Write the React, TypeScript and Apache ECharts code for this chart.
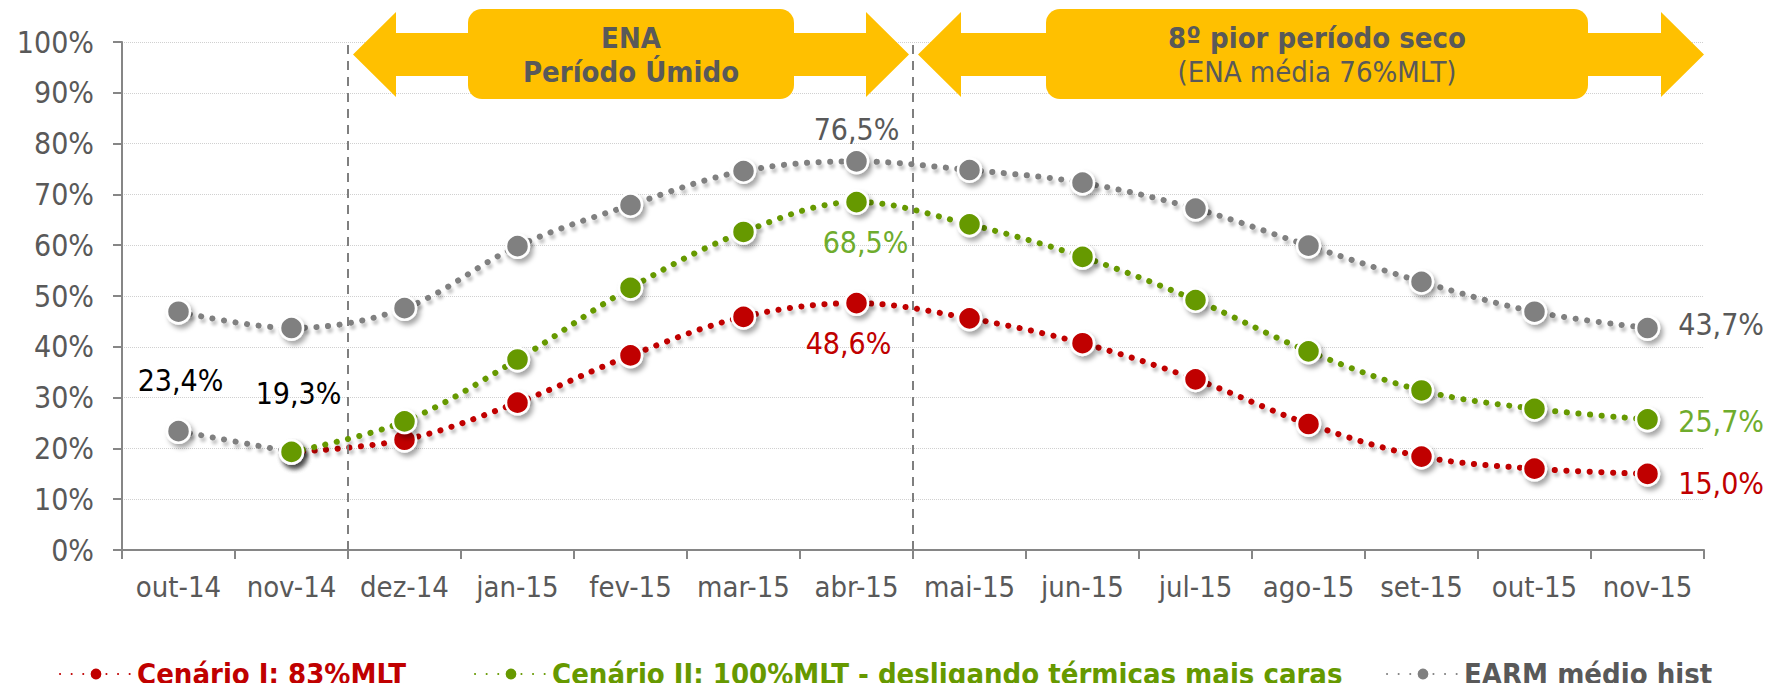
import React, { useEffect, useRef } from "react";
import * as echarts from "echarts";

const categories = ["out-14", "nov-14", "dez-14", "jan-15", "fev-15", "mar-15", "abr-15", "mai-15", "jun-15", "jul-15", "ago-15", "set-15", "out-15", "nov-15"];
const earmHist = [46.9, 43.7, 47.6, 59.8, 67.9, 74.6, 76.5, 74.8, 72.3, 67.2, 59.9, 52.8, 46.9, 43.7];
const earmVerificado = [23.4, 19.3, null, null, null, null, null, null, null, null, null, null, null, null];
const cenarioI = [null, 19.3, 21.7, 29.0, 38.3, 45.9, 48.6, 45.6, 40.7, 33.6, 24.8, 18.4, 16.0, 15.0];
const cenarioII = [null, 19.3, 25.3, 37.5, 51.6, 62.6, 68.5, 64.1, 57.7, 49.2, 39.1, 31.4, 27.8, 25.7];
const yTicks = { min: 0, max: 100, interval: 10 };
const periodBoundaries = [2, 7];
const seriesNames = ["Cenário I: 83%MLT", "Cenário II: 100%MLT - desligando térmicas mais caras", "EARM médio hist"];

const FONT = "'DejaVu Sans Condensed', 'DejaVu Sans', sans-serif";
const RED = "#C00000";
const GREEN = "#669900";
const GREEN_LABEL = "#6FAC2D";
const GRAY = "#808080";
const DARK = "#595959";
const GOLD = "#FFC000";

const fmt = (v: number) => v.toFixed(1).replace(".", ",") + "%";

function doubleArrow(xL: number, xR: number, yC: number) {
  const head = 43;
  const hh = 42.5;
  const sh = 21.5;
  return [
    [xL, yC],
    [xL + head, yC - hh],
    [xL + head, yC - sh],
    [xR - head, yC - sh],
    [xR - head, yC - hh],
    [xR, yC],
    [xR - head, yC + hh],
    [xR - head, yC + sh],
    [xL + head, yC + sh],
    [xL + head, yC + hh],
  ];
}

export default function App() {
  const ref = useRef<HTMLDivElement>(null);
  useEffect(() => {
    if (!ref.current) return;
    const chart = echarts.init(ref.current, undefined, { renderer: "svg" });
    const shadow = {
      shadowColor: "rgba(0,0,0,0.35)",
      shadowBlur: 5,
      shadowOffsetX: 3,
      shadowOffsetY: 4,
    };
    const lineShadow = {
      shadowColor: "rgba(0,0,0,0.22)",
      shadowBlur: 3,
      shadowOffsetX: 2,
      shadowOffsetY: 4,
    };
    const mkLine = (color: string) => ({
      color,
      width: 6,
      type: [0.1, 11.5],
      cap: "round",
      ...lineShadow,
    });
    const mkItem = (color: string) => ({
      color,
      borderColor: "#ffffff",
      borderWidth: 2.5,
      ...shadow,
    });
    const labelBase = { show: false, fontFamily: FONT, fontSize: 30, lineHeight: 30 };

    const lbl = (arr: (number | null)[], cfg: Record<number, any>) =>
      arr.map((v, i) =>
        cfg[i] && v != null
          ? { value: v, label: { show: true, formatter: () => fmt(v), fontFamily: FONT, fontSize: 30, lineHeight: 30, ...cfg[i] } }
          : v
      );

    const histData = lbl(earmHist, {
      6: { position: "top", distance: 4, color: DARK },
      13: { position: "right", distance: 18, offset: [0, -4], color: DARK },
    });
    const verData = lbl(earmVerificado, {
      0: { position: "top", distance: 23, offset: [2, 0], color: "#000000" },
      1: { position: "top", distance: 31, offset: [7, 0], color: "#000000" },
    });
    const redData = lbl(cenarioI, {
      6: { position: "bottom", distance: 13, offset: [-8, 0], color: RED },
      13: { position: "right", distance: 18, offset: [0, 10], color: RED },
    });
    const greenData = lbl(cenarioII, {
      6: { position: "bottom", distance: 13, offset: [9, 0], color: GREEN_LABEL },
      13: { position: "right", distance: 18, offset: [0, 2], color: GREEN_LABEL },
    });

    const legendBase = {
      top: 656,
      itemWidth: 72,
      itemHeight: 16,
      padding: 0,
      selectedMode: false,
    };
    const legendText = (color: string) => ({ fontFamily: FONT, fontSize: 29, fontWeight: "bold", color, lineHeight: 36 });

    const boxText = (x: number, lines: { t: string; bold: boolean; y: number }[]) =>
      lines.map((l) => ({
        type: "text",
        x,
        y: l.y,
        style: {
          text: l.t,
          fill: DARK,
          font: `${l.bold ? "bold " : ""}29px ${FONT}`,
          align: "center",
          verticalAlign: "middle",
        },
        z: 102,
      }));

    chart.setOption({
      animation: false,
      backgroundColor: "#ffffff",
      grid: { left: 122, right: 68, top: 42, bottom: 141 },
      xAxis: [
        {
          type: "category",
          data: categories,
          boundaryGap: true,
          axisLine: { lineStyle: { color: "#868686", width: 2 } },
          axisTick: { show: true, alignWithLabel: false, length: 9, lineStyle: { color: "#868686", width: 2 } },
          axisLabel: { color: DARK, fontFamily: FONT, fontSize: 29, margin: 22, interval: 0 },
        },
        { type: "value", min: 0, max: categories.length, show: false },
      ],
      yAxis: {
        type: "value",
        min: yTicks.min,
        max: yTicks.max,
        interval: yTicks.interval,
        axisLine: { show: true, lineStyle: { color: "#868686", width: 2 } },
        axisTick: { show: true, length: 9, lineStyle: { color: "#868686", width: 2 } },
        axisLabel: { color: DARK, fontFamily: FONT, fontSize: 30, margin: 28, formatter: "{value}%" },
        splitLine: { show: true, lineStyle: { color: "#d0d0d0", width: 1, type: "dotted" } },
      },
      legend: [
        { ...legendBase, left: 59, data: [{ name: seriesNames[0], textStyle: legendText(RED) }], textStyle: legendText(RED) },
        { ...legendBase, left: 474, data: [{ name: seriesNames[1], textStyle: legendText(GREEN) }], textStyle: legendText(GREEN) },
        { ...legendBase, left: 1386, data: [{ name: seriesNames[2], textStyle: legendText(DARK) }], textStyle: legendText(DARK) },
      ],
      series: [
        {
          name: "divisões",
          type: "line",
          xAxisIndex: 1,
          data: [],
          markLine: {
            silent: true,
            symbol: ["none", "none"],
            label: { show: false },
            lineStyle: { color: "#7f7f7f", width: 2, type: [9, 7] },
            data: periodBoundaries.map((b) => ({ xAxis: b })),
          },
        },
        {
          name: seriesNames[2],
          type: "line",
          data: histData,
          smooth: 0.35,
          symbol: "circle",
          symbolSize: 23,
          lineStyle: mkLine(GRAY),
          itemStyle: mkItem(GRAY),
          label: labelBase,
          z: 3,
        },
        {
          name: "EARM verificado",
          type: "line",
          data: verData,
          smooth: 0.35,
          symbol: "circle",
          symbolSize: 23,
          lineStyle: mkLine(GRAY),
          itemStyle: mkItem(GRAY),
          label: labelBase,
          z: 3,
        },
        {
          name: seriesNames[0],
          type: "line",
          data: redData,
          smooth: 0.35,
          symbol: "circle",
          symbolSize: 23,
          lineStyle: mkLine(RED),
          itemStyle: mkItem(RED),
          label: labelBase,
          z: 4,
        },
        {
          name: seriesNames[1],
          type: "line",
          data: greenData,
          smooth: 0.35,
          symbol: "circle",
          symbolSize: 23,
          lineStyle: mkLine(GREEN),
          itemStyle: mkItem(GREEN),
          label: labelBase,
          z: 5,
        },
      ],
      graphic: [
        { type: "polygon", shape: { points: doubleArrow(353, 909, 54.5) }, style: { fill: GOLD }, z: 100 },
        { type: "rect", shape: { x: 468, y: 9, width: 326, height: 90, r: 14 }, style: { fill: GOLD }, z: 101 },
        ...boxText(631, [
          { t: "ENA", bold: true, y: 38 },
          { t: "Período Úmido", bold: true, y: 72 },
        ]),
        { type: "polygon", shape: { points: doubleArrow(918, 1704, 54.5) }, style: { fill: GOLD }, z: 100 },
        { type: "rect", shape: { x: 1046, y: 9, width: 542, height: 90, r: 14 }, style: { fill: GOLD }, z: 101 },
        ...boxText(1317, [
          { t: "8º pior período seco", bold: true, y: 38 },
          { t: "(ENA média 76%MLT)", bold: false, y: 72 },
        ]),
      ],
    } as any);
    return () => chart.dispose();
  }, []);
  return <div ref={ref} style={{ width: 1772, height: 691, margin: -8 }} />;
}
